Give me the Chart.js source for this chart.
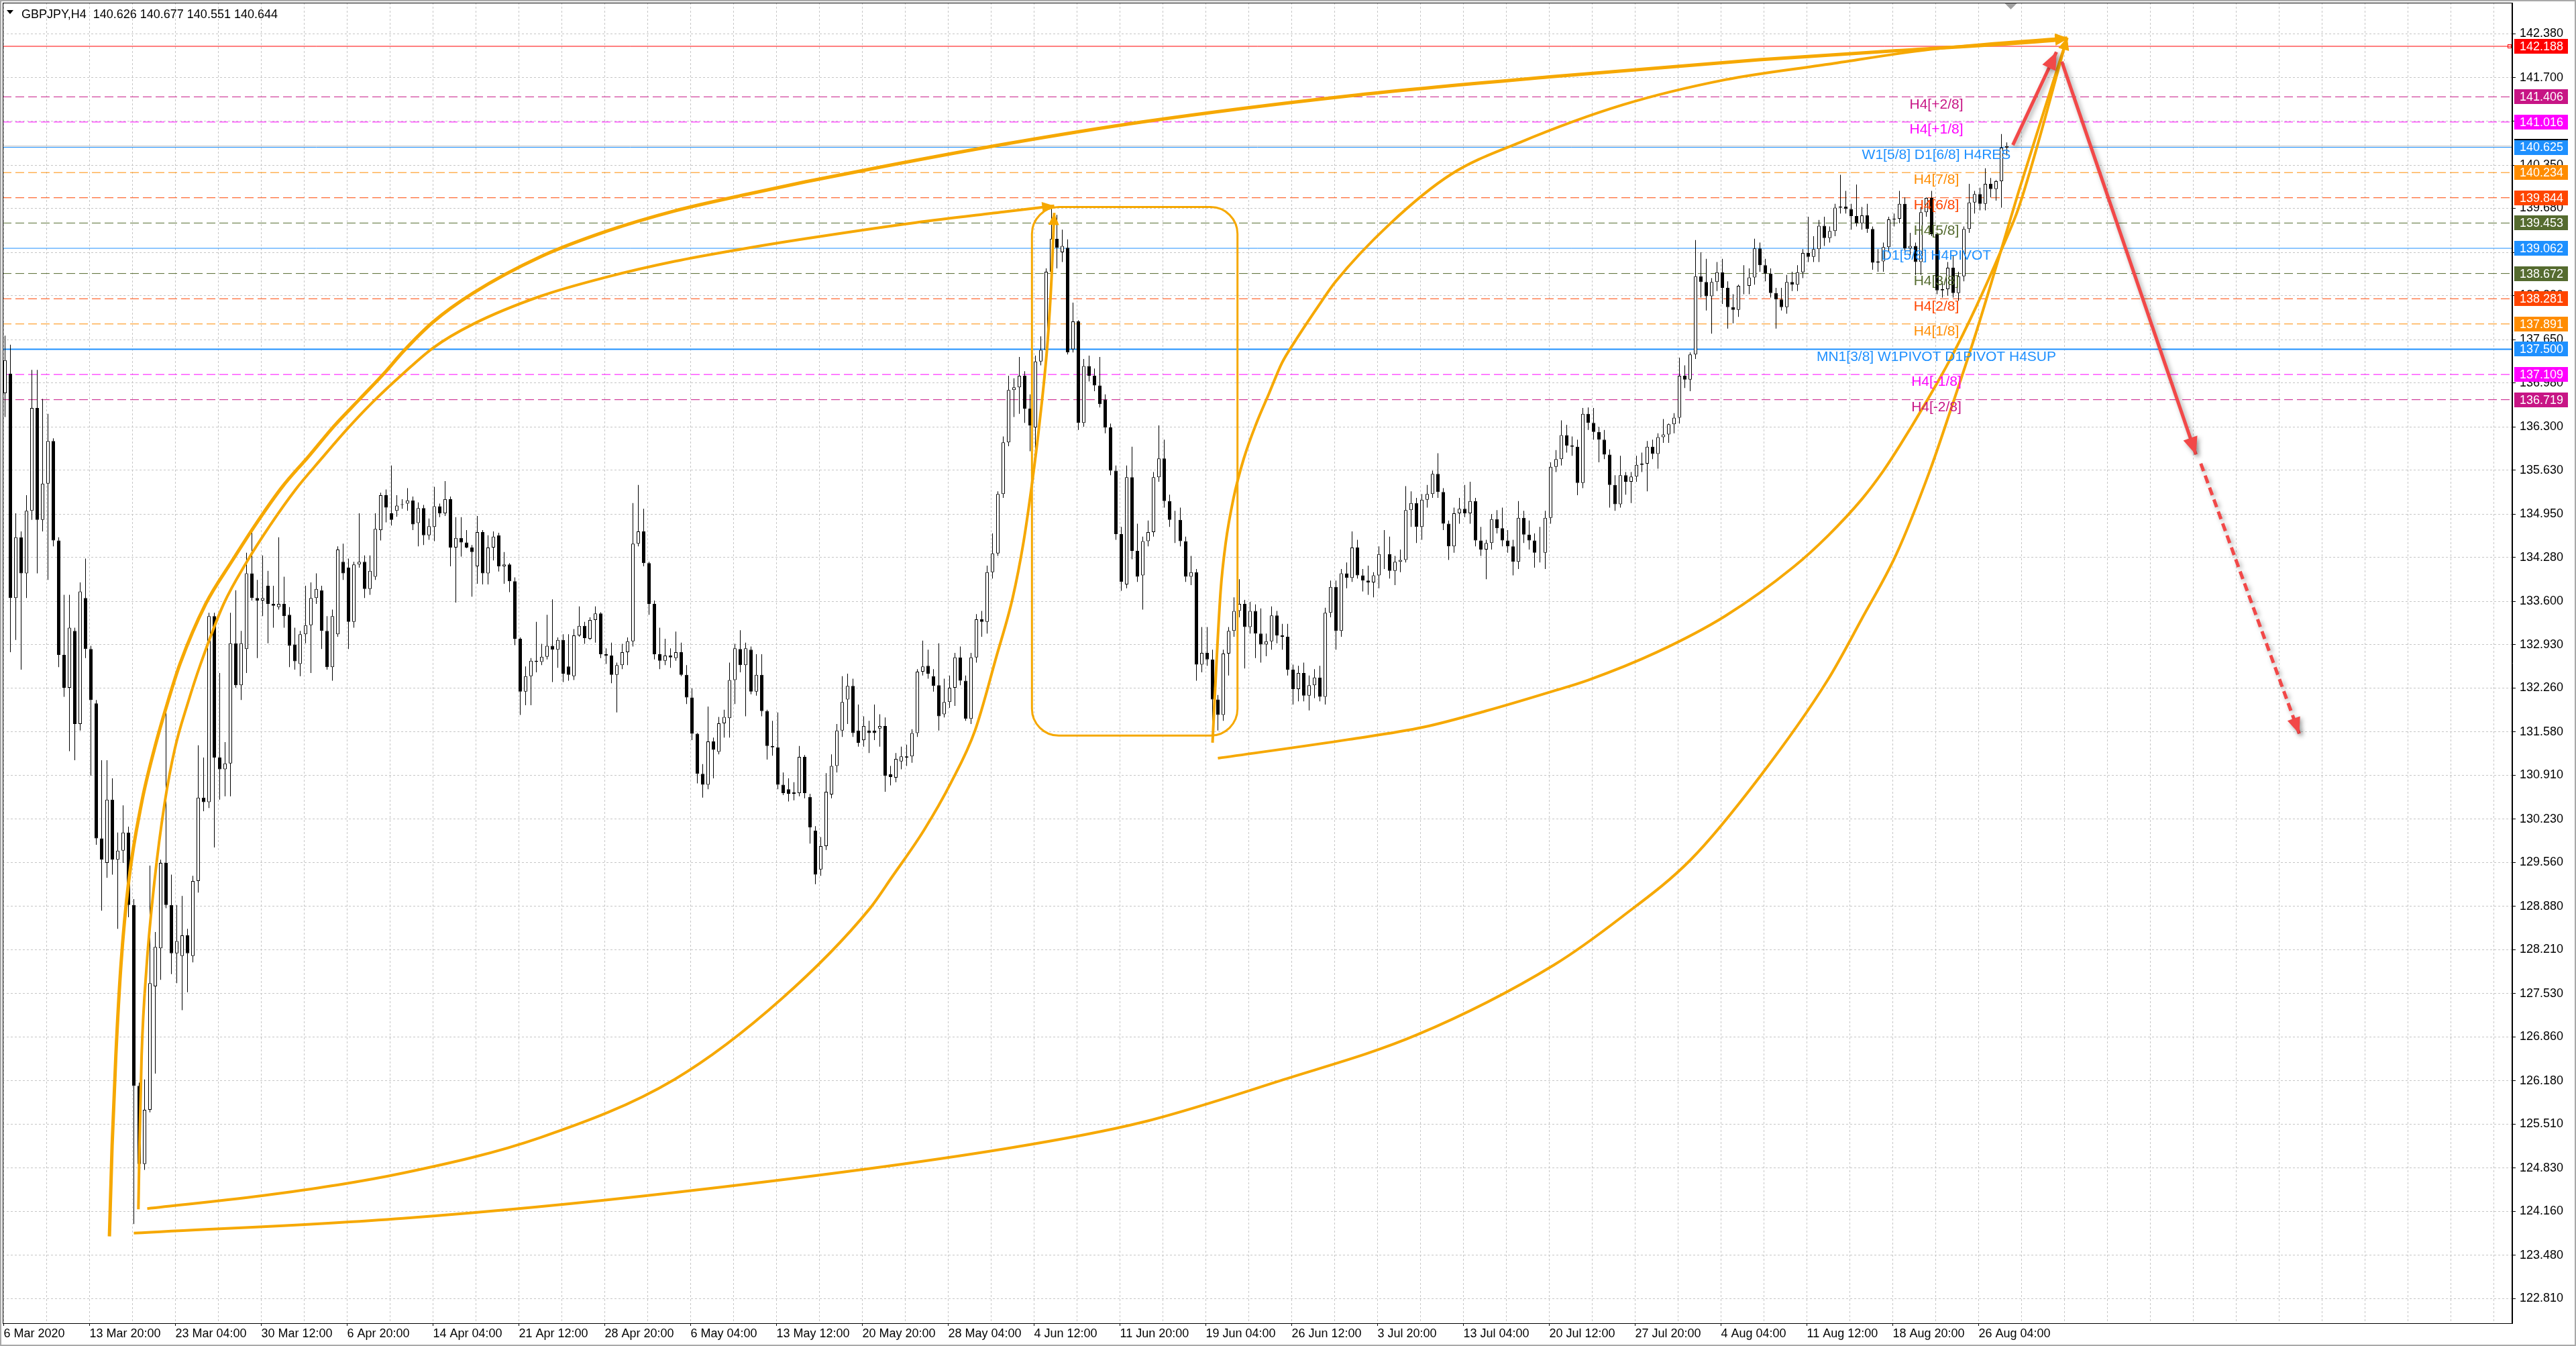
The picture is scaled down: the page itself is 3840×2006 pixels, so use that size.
<!DOCTYPE html>
<html>
<head>
<meta charset="utf-8">
<title>GBPJPY,H4</title>
<style>
html,body{margin:0;padding:0;background:#ffffff;overflow:hidden;}
#wrap{position:relative;width:3840px;height:2006px;}
canvas{display:block;}
</style>
<script src="https://cdn.jsdelivr.net/npm/chart.js@4.4.1/dist/chart.umd.min.js"></script>
</head>
<body>
<div id="wrap"><canvas id="chart" width="3840" height="2006"></canvas></div>
<script>
// ---------------- DATA ----------------
const symbolTitle = 'GBPJPY,H4  140.626 140.677 140.551 140.644';

const timeLabels = ['6 Mar 2020','13 Mar 20:00','23 Mar 04:00','30 Mar 12:00','6 Apr 20:00','14 Apr 04:00',
  '21 Apr 12:00','28 Apr 20:00','6 May 04:00','13 May 12:00','20 May 20:00','28 May 04:00','4 Jun 12:00',
  '11 Jun 20:00','19 Jun 04:00','26 Jun 12:00','3 Jul 20:00','13 Jul 04:00','20 Jul 12:00','27 Jul 20:00',
  '4 Aug 04:00','11 Aug 12:00','18 Aug 20:00','26 Aug 04:00'];

const priceTicks = [142.380,141.700,141.030,140.350,139.680,139.000,138.330,137.650,136.980,136.300,
  135.630,134.950,134.280,133.600,132.930,132.260,131.580,130.910,130.230,129.560,128.880,128.210,
  127.530,126.860,126.180,125.510,124.830,124.160,123.480,122.810];

// 8-hour candles (two H4 bars each), 6 Mar 2020 -> 27 Aug 2020
const opens = [
136.82,137.12,133.65,134.59,134.03,135.00,136.59,134.86,135.42,136.08,
134.54,132.77,132.26,133.14,131.70,133.65,132.86,132.02,129.93,129.55,
130.53,129.60,129.74,130.02,128.90,126.10,124.89,125.73,127.64,128.23,
129.55,128.90,128.15,128.11,128.43,128.11,129.27,130.56,130.49,133.37,
131.18,131.00,131.09,132.95,132.30,132.86,134.03,133.65,133.61,133.84,
133.56,133.51,133.56,133.39,132.93,132.63,133.09,133.23,133.65,133.77,
133.14,132.58,133.09,134.21,134.12,133.28,134.17,134.21,133.79,133.98,
134.70,135.24,134.96,135.00,135.09,135.11,135.16,134.81,135.04,134.62,
134.75,135.07,134.96,135.18,134.43,134.58,134.51,134.43,134.14,134.67,
134.03,134.43,134.62,134.14,134.17,133.91,133.02,132.20,132.44,132.68,
132.66,132.74,132.91,132.85,133.00,132.59,132.44,133.07,133.22,133.02,
133.31,133.41,132.78,132.76,132.46,132.61,132.81,132.98,134.49,134.68,
134.19,133.56,132.78,132.68,132.76,132.72,132.81,132.46,132.11,131.55,
130.93,130.76,131.43,131.27,131.71,131.79,132.38,132.86,132.61,132.85,
132.20,132.46,131.90,131.36,131.34,130.76,130.69,130.62,130.63,131.19,
130.57,130.05,129.45,129.81,130.61,131.05,131.60,132.08,132.29,131.60,
131.45,131.60,131.60,131.63,131.67,130.92,130.87,131.12,131.20,131.20,
131.56,132.51,132.60,132.44,132.30,131.85,132.04,132.26,132.73,132.37,
131.78,132.73,133.32,133.28,134.05,134.34,135.26,136.06,136.87,136.91,
137.09,136.58,136.29,137.31,137.49,138.70,139.21,139.00,139.07,137.50,
137.93,136.36,137.24,137.09,136.94,136.72,136.29,135.62,134.64,133.86,
135.52,134.38,134.00,134.53,134.67,135.52,135.81,135.15,134.86,134.86,
134.53,133.98,134.05,132.62,132.80,132.70,132.08,131.84,132.79,133.14,
133.45,133.56,133.20,133.45,133.10,132.93,132.98,133.38,133.07,133.05,
132.54,132.24,132.49,132.14,132.30,132.42,132.12,133.42,133.82,133.14,
134.03,133.96,134.43,134.00,133.92,133.89,134.00,134.33,134.33,134.07,
134.21,134.24,135.01,135.12,134.75,135.17,135.26,135.57,135.29,134.80,
134.45,134.96,135.03,134.96,135.15,134.54,134.40,134.50,134.87,134.73,
134.54,134.45,134.21,134.89,134.63,134.54,134.35,134.35,134.89,135.68,
135.80,136.17,136.01,135.99,135.43,136.50,136.36,136.22,136.10,135.87,
135.40,135.10,135.55,135.45,135.53,135.71,135.73,135.99,135.88,136.14,
136.18,136.34,136.44,137.09,137.03,137.42,138.63,138.54,138.32,138.54,
138.69,138.45,138.15,138.11,138.48,138.48,138.61,139.06,138.80,138.67,
138.37,138.27,138.15,138.54,138.50,138.69,138.99,138.93,139.05,139.41,
139.22,139.33,139.69,139.71,139.67,139.56,139.45,139.57,139.36,138.84,
138.86,139.08,139.51,139.52,139.75,139.06,139.10,138.85,139.62,139.84,
139.28,138.41,138.43,138.76,138.37,138.63,139.36,139.77,139.90,139.75,
140.06,139.98,140.10,140.62];
const highs = [
137.71,137.57,134.96,134.68,135.24,137.18,137.18,136.73,136.50,136.12,
134.59,133.70,133.70,133.19,133.89,134.26,132.91,132.07,131.14,131.14,
130.86,130.02,130.44,130.11,128.99,126.15,126.20,129.51,128.48,129.60,
131.98,129.37,128.90,129.04,128.53,129.35,131.37,131.18,133.42,133.42,
132.49,131.42,133.42,133.77,133.14,134.35,134.68,133.93,134.31,134.07,
133.84,134.59,133.98,133.51,133.19,133.14,133.84,133.89,134.03,133.84,
133.37,133.47,134.45,134.49,134.26,134.21,134.96,134.31,134.31,134.96,
135.28,135.33,135.70,135.24,135.18,135.35,135.22,135.13,135.09,134.88,
135.37,135.11,135.46,135.22,134.90,134.90,134.70,134.47,134.92,134.70,
134.62,134.68,134.66,134.36,134.19,133.97,133.04,132.59,132.72,133.28,
132.94,133.39,133.63,133.04,133.09,133.09,133.17,133.52,133.28,133.35,
133.52,133.43,132.87,132.96,132.65,132.94,133.04,135.12,135.40,135.03,
134.21,133.61,133.19,133.02,132.87,133.13,132.96,132.61,132.25,131.56,
131.08,131.97,131.49,131.81,131.92,132.65,132.94,133.15,132.96,132.90,
132.78,132.78,131.92,131.75,131.88,130.95,130.86,130.80,131.36,131.22,
130.62,130.12,129.95,130.94,131.23,131.70,132.44,132.48,132.40,132.00,
131.82,131.75,132.00,131.85,131.80,131.05,131.25,131.35,131.38,131.62,
132.55,132.99,132.85,132.55,132.95,132.40,132.45,132.80,132.90,132.45,
132.80,133.40,133.45,134.15,134.65,135.30,136.15,137.09,137.05,137.38,
137.16,136.80,137.40,137.70,138.75,139.72,139.58,139.35,139.20,138.22,
137.95,137.35,137.40,137.20,137.38,136.80,136.35,135.70,134.75,135.70,
135.99,134.80,134.60,134.85,135.60,136.32,136.10,135.25,135.00,135.05,
134.60,134.30,134.10,133.20,133.20,132.85,132.15,132.85,133.20,133.66,
133.94,133.62,133.59,133.55,133.49,133.10,133.52,133.45,133.25,133.25,
132.62,132.60,132.65,132.45,132.55,132.60,133.50,133.92,133.92,134.10,
134.20,134.68,134.55,134.10,134.15,134.05,134.45,134.70,134.60,134.30,
134.40,135.38,135.30,135.20,135.26,135.40,135.62,135.89,135.35,134.85,
135.05,135.20,135.40,135.45,135.20,134.75,134.55,134.95,135.01,135.05,
134.70,134.55,135.15,135.00,134.85,134.65,134.75,135.00,135.75,135.94,
136.40,136.33,136.15,136.10,136.59,136.60,136.59,136.30,136.25,135.95,
135.55,135.85,135.60,135.60,135.85,135.90,136.08,136.10,136.20,136.42,
136.35,136.51,137.37,137.25,137.45,139.19,139.00,138.90,138.60,138.85,
138.90,138.55,138.35,138.50,138.80,138.75,139.21,139.15,138.90,138.75,
138.45,138.45,138.65,138.70,138.80,139.05,139.55,139.25,139.50,139.55,
139.40,139.75,140.20,139.95,139.75,140.05,139.70,139.75,139.40,139.05,
139.15,139.55,139.60,139.95,139.85,139.30,139.15,139.70,139.85,139.95,
139.30,138.55,138.85,138.95,138.70,139.40,140.06,139.95,140.00,140.30,
140.15,140.12,140.83,140.70];
const lows = [
136.45,132.81,133.00,132.54,133.65,134.86,134.03,134.68,133.93,134.45,
132.58,132.12,131.28,131.14,131.60,132.72,130.90,129.83,128.81,129.32,
129.37,128.53,129.55,128.71,123.96,124.66,124.80,125.69,126.29,127.74,
128.85,127.83,127.69,127.27,127.55,128.01,129.09,130.35,130.40,129.79,
130.53,130.58,130.58,132.26,132.07,132.49,133.61,132.72,133.37,132.95,
133.19,133.47,133.19,132.58,132.54,132.44,132.95,132.49,133.56,132.86,
132.54,132.37,133.05,133.93,132.86,133.19,134.12,133.65,133.70,133.93,
134.54,134.82,134.77,134.91,135.03,135.00,134.70,134.45,134.47,134.55,
134.53,134.90,134.92,134.14,133.58,134.29,134.42,133.67,133.87,133.86,
133.86,134.23,134.06,133.87,133.74,132.92,131.84,131.99,131.99,132.50,
132.61,132.70,132.35,132.57,132.35,132.37,132.38,133.05,132.94,133.00,
132.96,132.72,132.63,132.33,131.88,132.55,132.61,132.90,134.45,134.14,
133.39,132.70,132.55,132.61,132.57,132.68,132.44,132.01,131.45,130.78,
130.56,130.69,130.86,131.23,131.49,131.49,132.01,132.50,131.82,132.16,
132.14,131.82,131.15,131.21,130.69,130.60,130.50,130.52,130.58,130.55,
129.85,129.22,129.35,129.75,130.55,130.95,131.50,131.70,131.50,131.35,
131.35,131.25,131.45,131.35,130.65,130.75,130.80,131.00,131.05,131.10,
131.50,132.45,132.40,132.20,131.60,131.80,131.95,131.98,132.30,131.75,
131.70,132.65,133.05,133.10,133.95,134.30,135.20,136.00,136.45,136.50,
136.36,135.92,135.95,137.25,137.40,138.55,138.75,138.85,137.42,137.45,
136.25,136.30,137.00,136.85,136.60,136.20,135.55,134.55,133.76,133.80,
134.25,133.90,133.47,134.45,134.60,135.45,135.05,134.75,134.50,134.45,
133.90,133.85,132.37,132.50,132.60,131.45,131.60,131.75,132.45,133.05,
133.35,132.56,133.10,132.72,132.65,132.75,132.85,132.95,132.85,132.45,
132.00,132.05,132.05,131.91,132.10,132.05,132.00,133.35,132.85,133.05,
133.80,133.90,133.95,133.75,133.70,133.66,133.80,134.10,133.95,133.85,
134.05,134.20,134.75,134.50,134.55,135.05,135.20,135.20,134.70,134.24,
134.35,134.80,134.90,134.80,134.45,134.30,133.94,134.40,134.65,134.45,
134.35,134.00,134.10,134.50,134.40,134.12,134.20,134.10,134.80,135.60,
135.70,135.90,135.85,135.24,135.35,136.25,136.10,135.75,135.80,135.05,
135.00,135.05,135.25,135.12,135.45,135.60,135.30,135.80,135.65,136.05,
136.05,136.20,136.35,136.90,136.85,137.35,138.30,138.10,137.74,138.40,
138.20,137.82,137.90,138.00,138.35,138.35,138.50,138.70,138.55,138.30,
137.82,138.10,138.05,138.40,138.40,138.60,138.85,138.85,138.85,139.10,
139.15,139.25,139.60,139.60,139.35,139.40,139.35,139.30,138.73,138.70,
138.70,139.00,139.40,139.45,139.00,138.95,138.65,138.65,139.55,139.25,
138.35,138.30,138.33,138.30,138.25,138.55,139.30,139.60,139.65,139.65,
139.85,139.80,139.69,140.50];
const closes = [
137.33,133.65,134.59,134.03,135.00,136.59,134.86,135.42,136.08,134.54,
132.77,132.26,133.19,131.70,133.75,132.86,132.07,129.93,129.60,130.53,
129.60,129.74,130.02,128.90,126.10,124.89,125.73,127.69,128.25,129.55,
128.90,128.15,128.34,128.43,128.15,129.27,130.56,130.49,133.37,131.18,
131.00,131.09,132.95,132.30,132.95,134.03,133.65,133.61,133.65,133.56,
133.53,133.56,133.37,132.91,132.67,133.09,133.23,133.65,133.79,133.14,
132.58,133.37,134.40,134.03,133.28,134.17,134.21,133.79,134.07,134.72,
135.24,135.05,134.86,135.08,135.10,135.16,134.79,135.04,134.62,134.76,
135.07,134.96,135.18,134.43,134.58,134.51,134.43,134.36,134.67,134.03,
134.43,134.60,134.14,134.17,133.91,133.02,132.20,132.44,132.68,132.66,
132.74,132.91,132.85,133.00,132.48,132.46,133.07,133.22,133.03,133.31,
133.41,132.78,132.76,132.46,132.61,132.81,132.98,134.49,134.68,134.19,
133.56,132.78,132.68,132.76,132.73,132.81,132.46,132.11,131.55,130.93,
130.76,131.43,131.30,131.71,131.81,132.38,132.87,132.61,132.87,132.20,
132.46,131.90,131.36,131.34,130.76,130.63,130.62,130.64,131.19,130.63,
130.10,129.37,129.81,130.65,131.05,131.60,132.04,132.29,131.56,131.41,
131.67,131.56,131.56,131.67,130.90,130.88,131.16,131.20,131.18,131.56,
132.51,132.59,132.48,132.29,131.82,132.04,132.26,132.73,132.37,131.78,
132.73,133.32,133.28,134.05,134.34,135.26,136.06,136.87,136.91,137.09,
136.58,136.32,137.31,137.49,138.70,139.21,139.07,139.10,137.45,137.93,
136.36,137.24,137.09,136.94,136.65,136.29,135.62,134.64,133.90,135.52,
134.38,133.98,134.53,134.67,135.52,135.81,135.15,134.86,134.86,134.53,
133.98,134.05,132.62,132.80,132.70,132.08,131.84,132.79,133.14,133.45,
133.56,133.20,133.45,133.10,132.93,132.98,133.38,133.07,133.05,132.54,
132.24,132.49,132.14,132.30,132.42,132.12,133.42,133.82,133.14,134.03,
133.96,134.43,134.00,133.92,133.89,134.00,134.33,134.33,134.07,134.21,
134.24,135.01,135.12,134.75,135.17,135.26,135.57,135.29,134.80,134.45,
134.96,135.03,134.96,135.15,134.54,134.40,134.50,134.87,134.73,134.54,
134.45,134.21,134.89,134.63,134.54,134.35,134.35,134.89,135.68,135.80,
136.17,136.01,135.99,135.43,136.50,136.36,136.22,136.10,135.87,135.40,
135.10,135.55,135.45,135.53,135.71,135.73,135.99,135.88,136.14,136.18,
136.34,136.44,137.09,137.03,137.42,138.63,138.54,138.32,138.54,138.69,
138.45,138.15,138.11,138.48,138.48,138.61,139.06,138.80,138.67,138.37,
138.27,138.15,138.54,138.50,138.69,138.99,138.93,139.05,139.41,139.22,
139.33,139.69,139.71,139.67,139.56,139.45,139.57,139.36,138.84,138.86,
139.08,139.51,139.52,139.75,139.06,139.10,138.85,139.62,139.84,139.28,
138.41,138.43,138.76,138.37,138.63,139.36,139.77,139.90,139.75,140.06,
139.98,140.10,140.62,140.644];

// horizontal levels (price) and their names
const levelPrices = [142.188,141.406,141.016,140.625,140.234,139.844,139.453,139.062,138.672,138.281,137.891,137.500,137.109,136.719];
const levelNames = ['','H4[+2/8]','H4[+1/8]','W1[5/8] D1[6/8] H4RES','H4[7/8]','H4[6/8]','H4[5/8]',
  'D1[5/8] H4PIVOT','H4[3/8]','H4[2/8]','H4[1/8]','MN1[3/8] W1PIVOT D1PIVOT H4SUP','H4[-1/8]','H4[-2/8]'];
const bidPrice = 140.644;

// drawn objects (bar index / price)
const arc1Bars   = [39.4,40.4,41.8,43.7,46.6,51.4,56.2,61.0,65.7,75.3,84.9,94.4,104,113.6,123.1,132.7,142.3,148.8,160,175,200,225,250,275,298.7,328,373.75,424.75,501.25,577.75,654.25,705.4,764,769];
const arc1Prices = [123.77,125.17,126.57,127.97,129.27,130.48,131.32,132.02,132.63,133.56,134.21,134.82,135.38,135.84,136.31,136.73,137.15,137.46,137.92,138.37,138.93,139.33,139.64,139.88,140.09,140.33,140.68,141.02,141.42,141.72,141.98,142.12,142.28,142.30];
const arc2Bars   = [50.2,50.6,51.4,53.3,56.2,60.0,63.8,68.6,73.4,82.0,90.6,99.2,108.8,118.3,127.9,137.5,148.8,160,175,200,225,250,275,298.7,340,373.75,391.5];
const arc2Prices = [124.19,125.17,126.57,127.97,129.27,130.48,131.32,132.02,132.63,133.56,134.21,134.77,135.33,135.80,136.26,136.68,137.12,137.52,137.89,138.32,138.62,138.86,139.05,139.21,139.46,139.63,139.72];
const arc3Bars   = [53.5,100,148.8,200,250,290,322.5,331,343,353,362,370,376,380,383,386,389,390.5,391.5];
const arc3Prices = [124.20,124.42,124.75,125.30,126.20,127.45,128.83,129.33,130.06,130.79,131.60,132.75,133.65,134.50,135.35,136.35,137.60,138.60,139.61];
const arc4Bars   = [450.5,451.5,453.5,455.4,458.3,462.1,466.9,471.6,476.4,481.2,490.8,496.25,516.6,539.5,565,603.25,641.5,679.9,718.1,769];
const arc4Prices = [131.41,132.26,133.75,134.50,135.19,135.80,136.36,136.82,137.29,137.62,138.22,138.54,139.44,140.21,140.70,141.28,141.67,141.91,142.14,142.32];
const arc5Bars   = [452.5,501.2,529,552.2,576.7,590.5,616,641.5,667,680,692.5,700.2,706.5,716,725.5,735,744.6,751,769];
const arc5Prices = [131.17,131.46,131.65,131.90,132.20,132.38,132.81,133.37,134.13,134.62,135.18,135.60,136.00,136.65,137.35,138.15,139.05,139.70,142.32];
const arc6Bars   = [48.5,148.8,250,373.6,424.6,475.7,526.7,577.7,603.2,628.7,654.2,679.75,692.5,705.25,718,725.5,735,742.7,751,769];
const arc6Prices = [123.82,124.05,124.45,125.13,125.54,126.18,126.89,127.97,128.72,129.60,130.87,132.38,133.33,134.32,135.64,136.55,137.75,138.80,139.95,142.32];
const boxBars    = [383.2,459.8];
const boxPrices  = [139.70,131.52];
const upArrowBars = [748.75,765];      const upArrowPrices = [140.66,142.10];
const downArrowBars = [767,817];       const downArrowPrices = [141.95,135.87];
const dashArrowBars = [818.8,855.5];   const dashArrowPrices = [135.73,131.55];

// ---------------- LAYOUT / STYLE ----------------
const X_MIN = -0.375, X_MAX = 934.875;
const Y_MIN = 122.427, Y_MAX = 142.863;
const LABEL_BAR = 720.25;
const SHIFT_BAR = 748;
const FONT = '"Liberation Sans", Arial, sans-serif';
const ORANGE = '#f6a800';
const RED = '#f24848';
const GRID = '#c6c6c6';
const levelStyle = [
  {c:'#ff0000', w:1, d:[]},
  {c:'#c71585', w:1, d:[13,6]},
  {c:'#ff00ff', w:1, d:[13,6]},
  {c:'#1e90ff', w:1, d:[]},
  {c:'#ff8c00', w:1, d:[13,6]},
  {c:'#ff4500', w:1, d:[13,6]},
  {c:'#556b2f', w:1, d:[13,6]},
  {c:'#1e90ff', w:1, d:[]},
  {c:'#556b2f', w:1, d:[13,6]},
  {c:'#ff4500', w:1, d:[13,6]},
  {c:'#ff8c00', w:1, d:[13,6]},
  {c:'#1e90ff', w:2, d:[]},
  {c:'#ff00ff', w:1, d:[13,6]},
  {c:'#c71585', w:1, d:[13,6]}
];

const gridBars = [];
for (let b = 0; b <= 928; b += 16) gridBars.push(b);

// ---------------- DATASETS ----------------
const candleX = opens.map((_, i) => 2 * i + 0.5);
const wickData = candleX.map((x, i) => ({x: x, y: [lows[i], highs[i]]}));
const bodyData = candleX.map((x, i) => ({x: x, y: [opens[i], closes[i]]}));
const bodyFill = opens.map((o, i) => closes[i] >= o ? '#ffffff' : '#000000');
const pts = (bs, ps) => bs.map((b, i) => ({x: b, y: ps[i]}));

const datasets = [];
datasets.push({type:'bar', data: wickData, backgroundColor:'#000000', borderWidth:0, barThickness:1,
  grouped:false, inflateAmount:0, order:2});
datasets.push({type:'bar', data: bodyData, backgroundColor: bodyFill, borderColor:'#000000', borderWidth:1,
  borderSkipped:false, barThickness:5, grouped:false, inflateAmount:0, order:1});

levelPrices.forEach((p, i) => {
  datasets.push({type:'line', data:[{x:X_MIN, y:p},{x:X_MAX, y:p}], borderColor: levelStyle[i].c,
    borderWidth: levelStyle[i].w, borderDash: levelStyle[i].d, pointRadius:0, fill:false, order:4});
});
datasets.push({type:'line', data:[{x:X_MIN, y:bidPrice},{x:X_MAX, y:bidPrice}], borderColor:'#bdbdbd',
  borderWidth:1, pointRadius:0, fill:false, order:5});

const arcs = [
  [arc1Bars, arc1Prices, 5],
  [arc2Bars, arc2Prices, 4],
  [arc3Bars, arc3Prices, 4],
  [arc4Bars, arc4Prices, 4],
  [arc5Bars, arc5Prices, 4],
  [arc6Bars, arc6Prices, 4]
];
arcs.forEach(a => {
  datasets.push({type:'line', data: pts(a[0], a[1]), borderColor: ORANGE, borderWidth: a[2], pointRadius:0,
    fill:false, cubicInterpolationMode:'monotone', order:0, arrowHead:{len:18, half:8, color:ORANGE}});
});
datasets.push({type:'line', data: pts(upArrowBars, upArrowPrices), borderColor: RED, borderWidth:5, pointRadius:0,
  fill:false, order:-1, shadow:true, arrowHead:{len:26, half:11, color:RED}});
datasets.push({type:'line', data: pts(downArrowBars, downArrowPrices), borderColor: RED, borderWidth:5, pointRadius:0,
  fill:false, order:-1, shadow:true, arrowHead:{len:26, half:11, color:RED}});
datasets.push({type:'line', data: pts(dashArrowBars, dashArrowPrices), borderColor: RED, borderWidth:5, pointRadius:0,
  borderDash:[12,7], fill:false, order:-1, shadow:true, arrowHead:{len:24, half:10, color:RED}});

// ---------------- PLUGIN ----------------
function drawArrowHead(ctx, x1, y1, x2, y2, len, half, color) {
  const ang = Math.atan2(y2 - y1, x2 - x1);
  const c = Math.cos(ang), s = Math.sin(ang);
  ctx.fillStyle = color;
  ctx.beginPath();
  ctx.moveTo(x2, y2);
  ctx.lineTo(x2 - len * c + half * s, y2 - len * s - half * c);
  ctx.lineTo(x2 - len * c - half * s, y2 - len * s + half * c);
  ctx.closePath();
  ctx.fill();
}
function roundRectPath(ctx, x, y, w, h, r) {
  ctx.beginPath();
  ctx.moveTo(x + r, y);
  ctx.lineTo(x + w - r, y);
  ctx.arcTo(x + w, y, x + w, y + r, r);
  ctx.lineTo(x + w, y + h - r);
  ctx.arcTo(x + w, y + h, x + w - r, y + h, r);
  ctx.lineTo(x + r, y + h);
  ctx.arcTo(x, y + h, x, y + h - r, r);
  ctx.lineTo(x, y + r);
  ctx.arcTo(x, y, x + r, y, r);
  ctx.closePath();
}

const decor = {
  id: 'decor',
  beforeDraw(chart) {
    const ctx = chart.ctx;
    ctx.save();
    ctx.fillStyle = '#ffffff';
    ctx.fillRect(0, 0, chart.width, chart.height);
    ctx.restore();
  },
  beforeDatasetDraw(chart, args) {
    const ds = chart.data.datasets[args.index];
    if (ds.shadow) {
      const ctx = chart.ctx;
      ctx.save();
      ctx.shadowColor = 'rgba(0,0,0,0.35)';
      ctx.shadowBlur = 7;
      ctx.shadowOffsetX = 3;
      ctx.shadowOffsetY = 3;
    }
  },
  afterDatasetDraw(chart, args) {
    const ds = chart.data.datasets[args.index];
    const ctx = chart.ctx;
    if (ds.arrowHead) {
      const el = args.meta.data;
      const p1 = el[el.length - 2], p2 = el[el.length - 1];
      ctx.save();
      drawArrowHead(ctx, p1.x, p1.y, p2.x, p2.y, ds.arrowHead.len, ds.arrowHead.half, ds.arrowHead.color);
      ctx.restore();
    }
    if (ds.shadow) ctx.restore();
  },
  afterDatasetsDraw(chart) {
    const {ctx, scales} = chart;
    const xs = scales.x, ys = scales.y;
    // rounded rectangle
    const bx1 = xs.getPixelForValue(boxBars[0]), bx2 = xs.getPixelForValue(boxBars[1]);
    const by1 = ys.getPixelForValue(boxPrices[0]), by2 = ys.getPixelForValue(boxPrices[1]);
    ctx.save();
    ctx.strokeStyle = ORANGE;
    ctx.lineWidth = 3;
    roundRectPath(ctx, bx1, by1, bx2 - bx1, by2 - by1, 40);
    ctx.stroke();
    ctx.restore();
    // level names
    ctx.save();
    ctx.font = '21px ' + FONT;
    ctx.textAlign = 'center';
    ctx.textBaseline = 'top';
    const lx = xs.getPixelForValue(LABEL_BAR);
    levelPrices.forEach((p, i) => {
      if (!levelNames[i]) return;
      ctx.fillStyle = levelStyle[i].c;
      ctx.fillText(levelNames[i], lx, ys.getPixelForValue(p) + 1);
    });
    ctx.restore();
  },
  afterDraw(chart) {
    const {ctx, chartArea: a, scales} = chart;
    const xs = scales.x, ys = scales.y;
    ctx.save();
    // outer border
    ctx.strokeStyle = '#a8a8a8';
    ctx.lineWidth = 2;
    ctx.strokeRect(1, 1, chart.width - 2, chart.height - 2);
    // chart frame
    ctx.strokeStyle = '#000000';
    ctx.lineWidth = 1;
    ctx.strokeRect(a.left + 0.5, a.top + 0.5, a.right - a.left - 1, a.bottom - a.top);
    // price labels on the axis
    ctx.font = '18px ' + FONT;
    ctx.textAlign = 'left';
    ctx.textBaseline = 'middle';
    const boxes = [[bidPrice, '#000000']].concat(levelPrices.map((p, i) => [p, levelStyle[i].c]));
    boxes.forEach(bx => {
      const py = ys.getPixelForValue(bx[0]);
      ctx.fillStyle = bx[1];
      ctx.fillRect(a.right + 3, Math.round(py - 11), 80, 22);
      ctx.fillStyle = '#ffffff';
      ctx.fillText(bx[0].toFixed(3), a.right + 11, py + 1);
    });
    // small square at the end of the red line
    const ry = ys.getPixelForValue(levelPrices[0]);
    ctx.strokeStyle = '#ff0000';
    ctx.lineWidth = 1;
    ctx.strokeRect(a.right - 6.5, Math.round(ry) - 2.5, 5, 5);
    // shift marker
    const sx = xs.getPixelForValue(SHIFT_BAR);
    ctx.fillStyle = '#a0a0a0';
    ctx.beginPath();
    ctx.moveTo(sx - 9, a.top + 1);
    ctx.lineTo(sx + 9, a.top + 1);
    ctx.lineTo(sx, a.top + 10);
    ctx.closePath();
    ctx.fill();
    // header
    ctx.fillStyle = '#000000';
    ctx.beginPath();
    ctx.moveTo(10, 15);
    ctx.lineTo(20, 15);
    ctx.lineTo(15, 21);
    ctx.closePath();
    ctx.fill();
    ctx.font = '18px ' + FONT;
    ctx.textBaseline = 'alphabetic';
    ctx.fillText(symbolTitle, 32, 27);
    ctx.restore();
  }
};

// ---------------- CHART ----------------
Chart.defaults.font.family = FONT;
Chart.defaults.font.size = 18;
Chart.defaults.color = '#000000';

new Chart(document.getElementById('chart'), {
  type: 'bar',
  data: { datasets: datasets },
  plugins: [decor],
  options: {
    responsive: false,
    maintainAspectRatio: false,
    devicePixelRatio: 1,
    animation: false,
    events: [],
    layout: { padding: { left: 4, top: 4, right: 0, bottom: 0 } },
    plugins: { legend: { display: false }, tooltip: { enabled: false }, title: { display: false } },
    scales: {
      x: {
        type: 'linear', min: X_MIN, max: X_MAX, offset: false,
        afterBuildTicks: s => { s.ticks = gridBars.map(v => ({value: v})); },
        afterFit: s => { s.height = 34; s.paddingLeft = 0; s.paddingRight = 0; },
        ticks: {
          autoSkip: false, maxRotation: 0, minRotation: 0, align: 'start', padding: 1,
          color: '#000000', font: { family: FONT, size: 18 },
          callback: v => (v % 32 === 0 && timeLabels[v / 32]) ? timeLabels[v / 32] : ''
        },
        grid: {
          color: GRID, lineWidth: 1, offset: false, drawTicks: true, tickLength: 4, tickWidth: 1,
          tickColor: c => (c.tick && c.tick.value % 32 === 0 && c.tick.value <= 736) ? '#000000' : 'rgba(0,0,0,0)'
        },
        border: { display: true, color: '#000000', width: 1, dash: [3, 3] }
      },
      y: {
        type: 'linear', position: 'right', min: Y_MIN, max: Y_MAX,
        afterBuildTicks: s => { s.ticks = priceTicks.map(v => ({value: v})); },
        afterFit: s => { s.width = 95; s.paddingTop = 0; s.paddingBottom = 0; },
        ticks: { padding: 6, color: '#000000', font: { family: FONT, size: 18 }, callback: v => Number(v).toFixed(3) },
        grid: { color: GRID, lineWidth: 1, drawTicks: true, tickLength: 5, tickWidth: 1, tickColor: '#000000' },
        border: { display: true, color: '#000000', width: 1, dash: [3, 3] }
      }
    }
  }
});
</script>
</body>
</html>
